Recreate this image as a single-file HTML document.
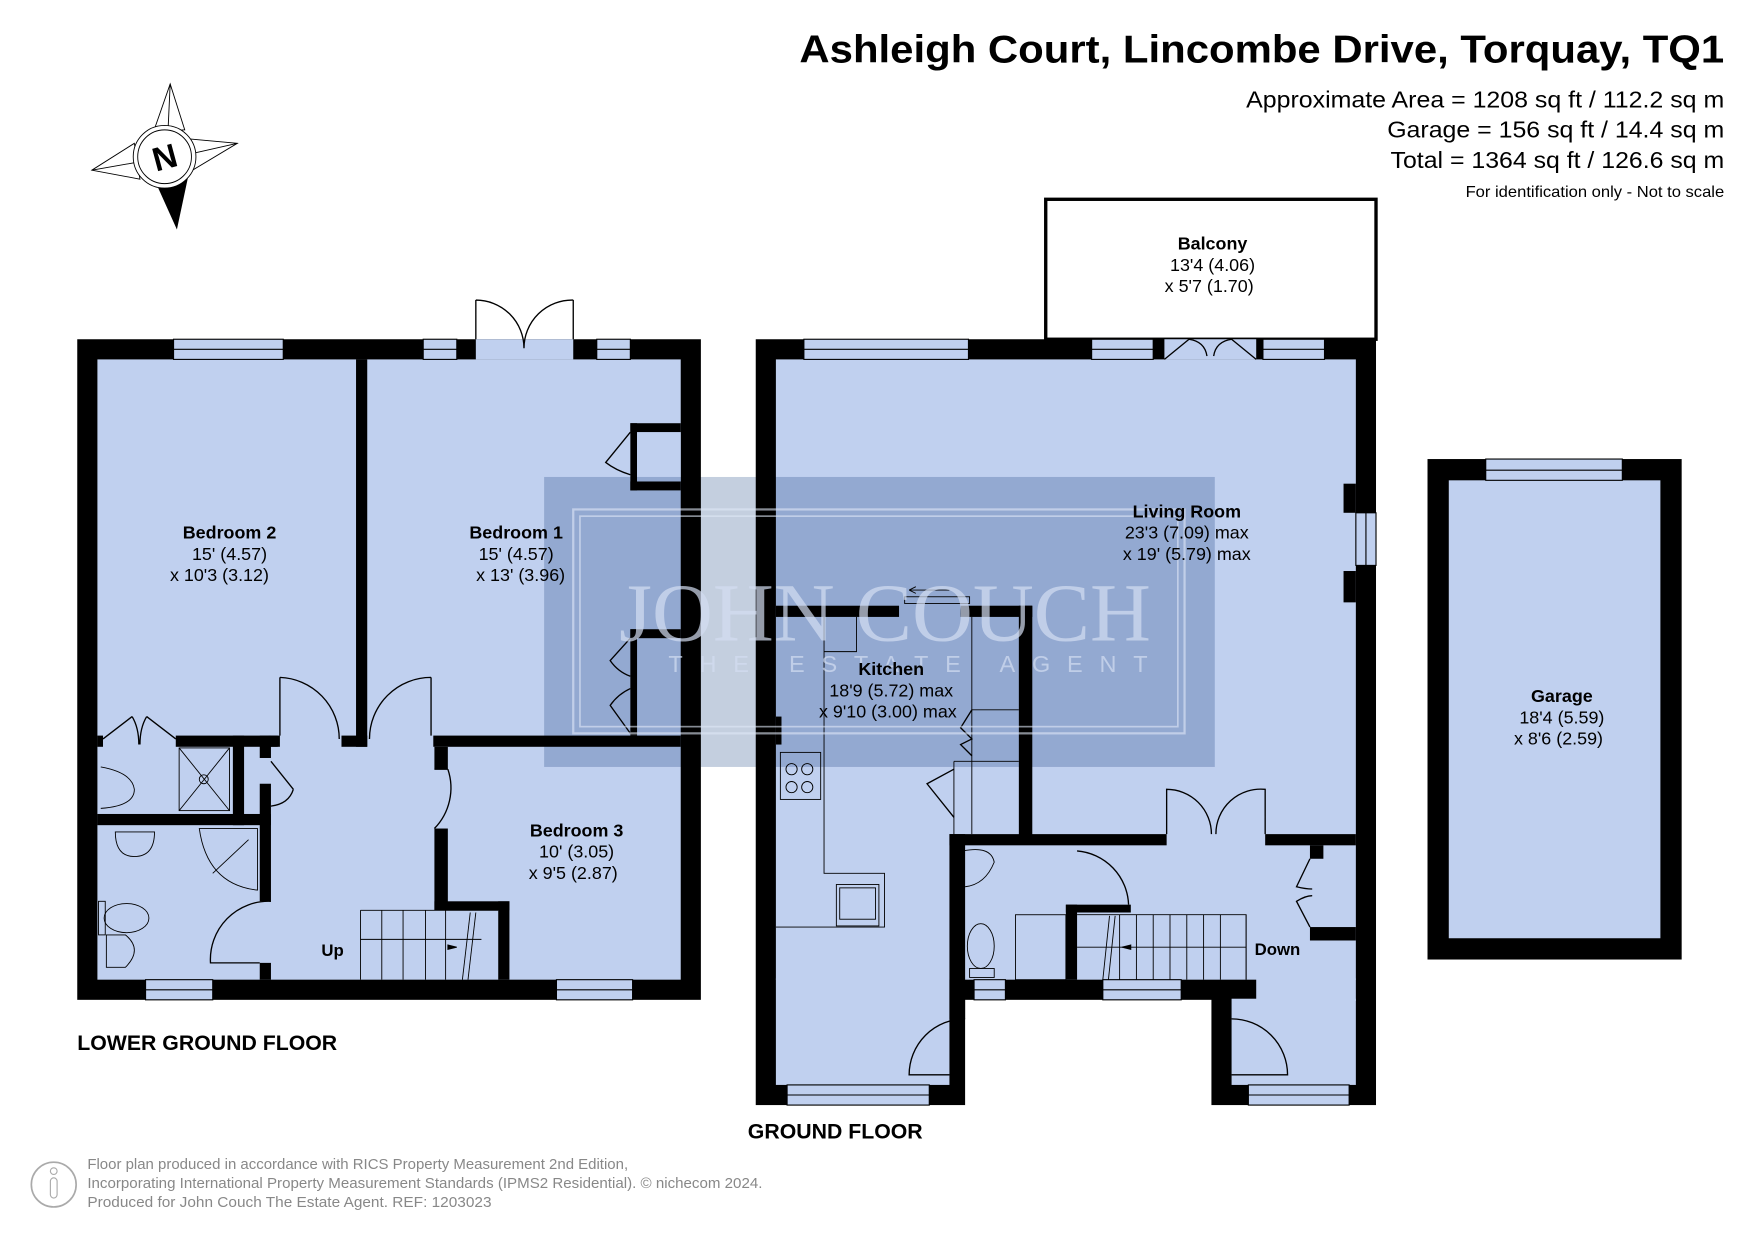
<!DOCTYPE html>
<html><head><meta charset="utf-8"><style>
html,body{margin:0;padding:0;background:#fff;}
svg{display:block}
text{font-family:"Liberation Sans",Arial,sans-serif;}
</style></head><body>
<svg width="1755" height="1241" viewBox="0 0 1567.5 1108.4" preserveAspectRatio="none" xmlns="http://www.w3.org/2000/svg">
<rect width="1570" height="1110" fill="#fff"/>
<!-- Title -->
<text x="714" y="56" font-size="35" font-weight="bold" textLength="826" lengthAdjust="spacingAndGlyphs">Ashleigh Court, Lincombe Drive, Torquay, TQ1</text>
<text x="1113" y="96" font-size="21" textLength="427" lengthAdjust="spacingAndGlyphs">Approximate Area = 1208 sq ft / 112.2 sq m</text>
<text x="1239" y="123" font-size="21" textLength="301" lengthAdjust="spacingAndGlyphs">Garage = 156 sq ft / 14.4 sq m</text>
<text x="1242" y="150" font-size="21" textLength="298" lengthAdjust="spacingAndGlyphs">Total = 1364 sq ft / 126.6 sq m</text>
<text x="1309" y="176" font-size="14" textLength="231" lengthAdjust="spacingAndGlyphs">For identification only - Not to scale</text>

<!-- Compass -->
<g stroke="#000" stroke-width="0.8" fill="#fff">
<polygon points="137,118 152,75 165,116"/>
<line x1="152" y1="75" x2="150" y2="118"/>
<polygon points="168,124 212,128 172,152"/>
<line x1="212" y1="128" x2="172" y2="137"/>
<polygon points="120,128 82,152 125,160"/>
<line x1="82" y1="152" x2="122" y2="145"/>
</g>
<polygon points="140,165 158,205 168,158" fill="#000"/>
<circle cx="147" cy="140" r="28" fill="#fff" stroke="#000" stroke-width="0.8"/>
<circle cx="147" cy="140" r="24" fill="#fff" stroke="#000" stroke-width="0.8"/>
<text x="147" y="151" text-anchor="middle" font-size="30" font-weight="bold" transform="rotate(-15 147 140)">N</text>

<!-- ===== LOWER GROUND FLOOR ===== -->
<rect x="69" y="303" width="557" height="590" fill="#000"/>
<rect x="87" y="321" width="521" height="554" fill="#c0d0ef"/>
<g fill="#000">
<rect x="318" y="321" width="10" height="346"/>
<rect x="305" y="657" width="23" height="10"/>
<rect x="387" y="657" width="221" height="10"/>
<rect x="157" y="657" width="91" height="10"/>
<rect x="87" y="657" width="5" height="10"/>
<rect x="240" y="657" width="10" height="10"/>
<rect x="87" y="727" width="155" height="10"/>
<rect x="208" y="657" width="10" height="80"/>
<rect x="232" y="657" width="10" height="20"/>
<rect x="232" y="700" width="10" height="105"/>
<rect x="232" y="860" width="10" height="15"/>
<rect x="388" y="667" width="12" height="20"/>
<rect x="388" y="740" width="12" height="73"/>
<rect x="388" y="805" width="67" height="8"/>
<rect x="445" y="805" width="10" height="70"/>
<rect x="563" y="378" width="45" height="8"/>
<rect x="563" y="430" width="45" height="8"/>
<rect x="563" y="378" width="6" height="60"/>
<rect x="563" y="562" width="45" height="8"/>
<rect x="563" y="562" width="6" height="95"/>
</g>
<rect x="569" y="386" width="39" height="44" fill="#c0d0ef"/>
<g fill="#c0d0ef" stroke="#000" stroke-width="1">
<rect x="155" y="303" width="98" height="18"/><line x1="155" y1="312" x2="253" y2="312"/>
<rect x="378" y="303" width="30" height="18"/><line x1="378" y1="312" x2="408" y2="312"/>
<rect x="533" y="303" width="30" height="18"/><line x1="533" y1="312" x2="563" y2="312"/>
<rect x="130" y="875" width="60" height="18"/><line x1="130" y1="884" x2="190" y2="884"/>
<rect x="497" y="875" width="68" height="18"/><line x1="497" y1="884" x2="565" y2="884"/>
<rect x="425" y="303" width="87" height="18" stroke="none"/>
</g>
<g fill="none" stroke="#000" stroke-width="1.2">
<path d="M425 268 V303 M512 268 V303 M425 268 A43 43 0 0 1 468 311 M512 268 A43 43 0 0 0 468 311"/>
<path d="M250 605 V657 M250 605 A55 55 0 0 1 303 660"/>
<path d="M385 605 V657 M385 605 A55 55 0 0 0 330 660"/>
<path d="M400 687 H388 M400 687 A52 52 0 0 1 388 740"/>
<path d="M242 805 A52 52 0 0 0 188 860 H232"/>
<path d="M92 660 L118 640 M157 660 L131 640 M118 640 Q124 650 124 665 M131 640 Q125 650 125 665"/>
<path d="M242 680 L262 705 M242 720 Q258 718 262 705"/>
<path d="M563 386 L541 413 Q550 420 563 424"/>
<path d="M563 570 L545 590 Q552 600 563 604 M563 655 L545 630 Q552 620 563 615"/>
</g>
<g fill="none" stroke="#000" stroke-width="0.8">
<rect x="160" y="668" width="45" height="56"/><line x1="160" y1="668" x2="205" y2="724"/><line x1="205" y1="668" x2="160" y2="724"/><circle cx="182" cy="696" r="4"/>
<path d="M90 685 Q118 690 120 705 Q120 720 90 722"/>
<path d="M178 740 H230 V795 Q185 790 178 740 Z"/><line x1="190" y1="780" x2="222" y2="750"/>
<path d="M103 743 Q103 765 120 765 Q138 765 138 743 Z"/>
<ellipse cx="113" cy="820" rx="20" ry="13"/><rect x="88" y="805" width="6" height="30"/>
<path d="M95 835 H112 Q128 848 112 864 H95 Z"/>
<path d="M322 813 H445 M322 839 H430 M322 875 V813"/>
<path d="M341 813 V875 M360 813 V875 M380 813 V875 M398 813 V875"/>
<line x1="418" y1="875" x2="425" y2="815"/><line x1="413" y1="875" x2="420" y2="815"/>
<polygon points="400,844 408,846 400,848" fill="#000"/>
</g>

<!-- ===== GROUND FLOOR ===== -->
<rect x="934" y="178" width="295" height="125" fill="#fff" stroke="#000" stroke-width="3"/>
<rect x="675" y="303" width="554" height="684" fill="#000"/>
<rect x="862" y="893" width="220" height="100" fill="#fff"/>
<rect x="693" y="321" width="518" height="554" fill="#c0d0ef"/>
<rect x="693" y="874" width="155" height="95" fill="#c0d0ef"/>
<rect x="1100" y="892" width="111" height="77" fill="#c0d0ef"/>
<rect x="1122" y="874" width="89" height="20" fill="#c0d0ef"/>
<g fill="#000">
<rect x="693" y="541" width="110" height="10"/>
<rect x="858" y="541" width="64" height="10"/>
<rect x="910" y="541" width="12" height="210"/>
<rect x="848" y="745" width="194" height="10"/>
<rect x="1130" y="745" width="81" height="10"/>
<rect x="848" y="745" width="14" height="165"/>
<rect x="952" y="808" width="58" height="7"/>
<rect x="952" y="808" width="10" height="67"/>
<rect x="1170" y="755" width="12" height="12"/>
<rect x="1170" y="828" width="41" height="12"/>
<rect x="1200" y="432" width="11" height="26"/>
<rect x="1200" y="510" width="11" height="28"/>
<rect x="693" y="640" width="5" height="25"/>
</g>
<g fill="#c0d0ef" stroke="#000" stroke-width="1">
<rect x="718" y="303" width="147" height="18"/><line x1="718" y1="312" x2="865" y2="312"/>
<rect x="975" y="303" width="55" height="18"/><line x1="975" y1="312" x2="1030" y2="312"/>
<rect x="1128" y="303" width="55" height="18"/><line x1="1128" y1="312" x2="1183" y2="312"/>
<rect x="1040" y="303" width="82" height="18" stroke="none"/>
<rect x="1211" y="458" width="18" height="47"/><line x1="1220" y1="458" x2="1220" y2="505"/>
<rect x="703" y="969" width="127" height="18"/><line x1="703" y1="978" x2="830" y2="978"/>
<rect x="1115" y="969" width="90" height="18"/><line x1="1115" y1="978" x2="1205" y2="978"/>
<rect x="870" y="875" width="28" height="18"/><line x1="870" y1="884" x2="898" y2="884"/>
<rect x="985" y="875" width="70" height="18"/><line x1="985" y1="884" x2="1055" y2="884"/>
</g>
<g fill="none" stroke="#000" stroke-width="1.2">
<path d="M1040 321 L1062 303 M1122 321 L1100 303 M1062 303 Q1076 305 1078 318 M1100 303 Q1086 305 1084 318"/>
<path d="M1042 745 V705 A40 40 0 0 1 1082 745 M1130 745 V705 A40 40 0 0 0 1086 745"/>
<path d="M1008 808 A50 50 0 0 0 962 760"/>
<path d="M862 910 A50 50 0 0 0 812 960 H848"/>
<path d="M1100 910 A50 50 0 0 1 1150 960 H1100"/>
<path d="M1170 767 L1158 792 Q1166 794 1172 794 M1170 828 L1158 805 Q1166 800 1172 800"/>
<path d="M852 687 L828 700 L852 730"/>
<path d="M868 634 L858 650 L868 660 L858 665 L868 675"/>
</g>
<g fill="none" stroke="#000" stroke-width="0.8">
<path d="M736 551 V780 H790 V828 H693"/>
<path d="M736 582 H765 V551"/>
<path d="M868 551 V745 M868 634 H910 M852 680 H910 M852 680 V745"/>
<rect x="697" y="672" width="36" height="42"/><circle cx="707" cy="687" r="5"/><circle cx="721" cy="687" r="5"/><circle cx="707" cy="703" r="5"/><circle cx="721" cy="703" r="5"/>
<rect x="747" y="790" width="38" height="37"/><rect x="750" y="793" width="32" height="28"/>
<rect x="808" y="533" width="58" height="6"/><path d="M812 527 H848 M812 527 L818 524 M812 527 L818 530"/>
<path d="M860 760 Q885 755 888 770 Q880 790 862 792"/>
<ellipse cx="876" cy="845" rx="12" ry="20"/><rect x="866" y="865" width="22" height="8"/>
<rect x="907" y="817" width="45" height="58"/>
<path d="M962 817 H1113 V875 M962 846 H1113"/>
<path d="M1000 817 V875 M1015 817 V875 M1030 817 V875 M1045 817 V875 M1060 817 V875 M1075 817 V875 M1090 817 V875 M1113 817 V875"/>
<line x1="990" y1="875" x2="996" y2="818"/><line x1="985" y1="875" x2="991" y2="818"/>
<polygon points="1002,846 1010,844 1010,848" fill="#000"/>
</g>

<!-- Garage -->
<rect x="1275" y="410" width="227" height="447" fill="#000"/>
<rect x="1294" y="429" width="189" height="409" fill="#c0d0ef"/>
<g fill="#c0d0ef" stroke="#000" stroke-width="1">
<rect x="1327" y="410" width="122" height="19"/><line x1="1327" y1="420" x2="1449" y2="420"/>
</g>

<!-- Watermark -->
<rect x="486" y="426" width="599" height="259" fill="#c4cfdf" style="mix-blend-mode:multiply"/>
<rect x="512" y="455" width="546" height="200" fill="none" stroke="#dfe7f6" stroke-width="2" opacity="0.6"/>
<rect x="518" y="461" width="534" height="188" fill="none" stroke="#dfe7f6" stroke-width="1.5" opacity="0.6"/>
<text x="553" y="572" font-size="74" fill="#d4def2" opacity="0.7" textLength="475" lengthAdjust="spacingAndGlyphs" style="font-family:'Liberation Serif',serif">JOHN COUCH</text>
<text x="597" y="600" font-size="21" fill="#d4def2" opacity="0.7" textLength="428" lengthAdjust="spacing">THE ESTATE AGENT</text>

<!-- Labels -->
<text x="205" y="481" text-anchor="middle" font-size="16" font-weight="bold">Bedroom 2</text>
<text x="205" y="500" text-anchor="middle" font-size="16">15' (4.57)</text>
<text x="196" y="519" text-anchor="middle" font-size="16">x 10'3 (3.12)</text>
<text x="461" y="481" text-anchor="middle" font-size="16" font-weight="bold">Bedroom 1</text>
<text x="461" y="500" text-anchor="middle" font-size="16">15' (4.57)</text>
<text x="465" y="519" text-anchor="middle" font-size="16">x 13' (3.96)</text>
<text x="515" y="747" text-anchor="middle" font-size="16" font-weight="bold">Bedroom 3</text>
<text x="515" y="766" text-anchor="middle" font-size="16">10' (3.05)</text>
<text x="512" y="785" text-anchor="middle" font-size="16">x 9'5 (2.87)</text>
<text x="297" y="854" text-anchor="middle" font-size="15" font-weight="bold">Up</text>
<text x="69" y="938" font-size="19" font-weight="bold">LOWER GROUND FLOOR</text>

<text x="1083" y="223" text-anchor="middle" font-size="16" font-weight="bold">Balcony</text>
<text x="1083" y="242" text-anchor="middle" font-size="16">13'4 (4.06)</text>
<text x="1080" y="261" text-anchor="middle" font-size="16">x 5'7 (1.70)</text>
<text x="1060" y="462" text-anchor="middle" font-size="16" font-weight="bold">Living Room</text>
<text x="1060" y="481" text-anchor="middle" font-size="16">23'3 (7.09) max</text>
<text x="1060" y="500" text-anchor="middle" font-size="16">x 19' (5.79) max</text>
<text x="796" y="603" text-anchor="middle" font-size="16" font-weight="bold">Kitchen</text>
<text x="796" y="622" text-anchor="middle" font-size="16">18'9 (5.72) max</text>
<text x="793" y="641" text-anchor="middle" font-size="16">x 9'10 (3.00) max</text>
<text x="1141" y="853" text-anchor="middle" font-size="15" font-weight="bold">Down</text>
<text x="1395" y="627" text-anchor="middle" font-size="16" font-weight="bold">Garage</text>
<text x="1395" y="646" text-anchor="middle" font-size="16">18'4 (5.59)</text>
<text x="1392" y="665" text-anchor="middle" font-size="16">x 8'6 (2.59)</text>
<text x="746" y="1017" text-anchor="middle" font-size="19" font-weight="bold">GROUND FLOOR</text>

<!-- Footer -->
<circle cx="48" cy="1058" r="20" fill="none" stroke="#aaa" stroke-width="1.5"/>
<circle cx="48" cy="1046" r="3" fill="none" stroke="#aaa"/>
<rect x="45" y="1052" width="6" height="18" rx="3" fill="none" stroke="#aaa"/>
<g font-size="13" fill="#888">
<text x="78" y="1044" textLength="483" lengthAdjust="spacingAndGlyphs">Floor plan produced in accordance with RICS Property Measurement 2nd Edition,</text>
<text x="78" y="1061" textLength="603" lengthAdjust="spacingAndGlyphs">Incorporating International Property Measurement Standards (IPMS2 Residential).   © nichecom 2024.</text>
<text x="78" y="1078" textLength="361" lengthAdjust="spacingAndGlyphs">Produced for John Couch The Estate Agent.   REF: 1203023</text>
</g>
</svg>
</body></html>
